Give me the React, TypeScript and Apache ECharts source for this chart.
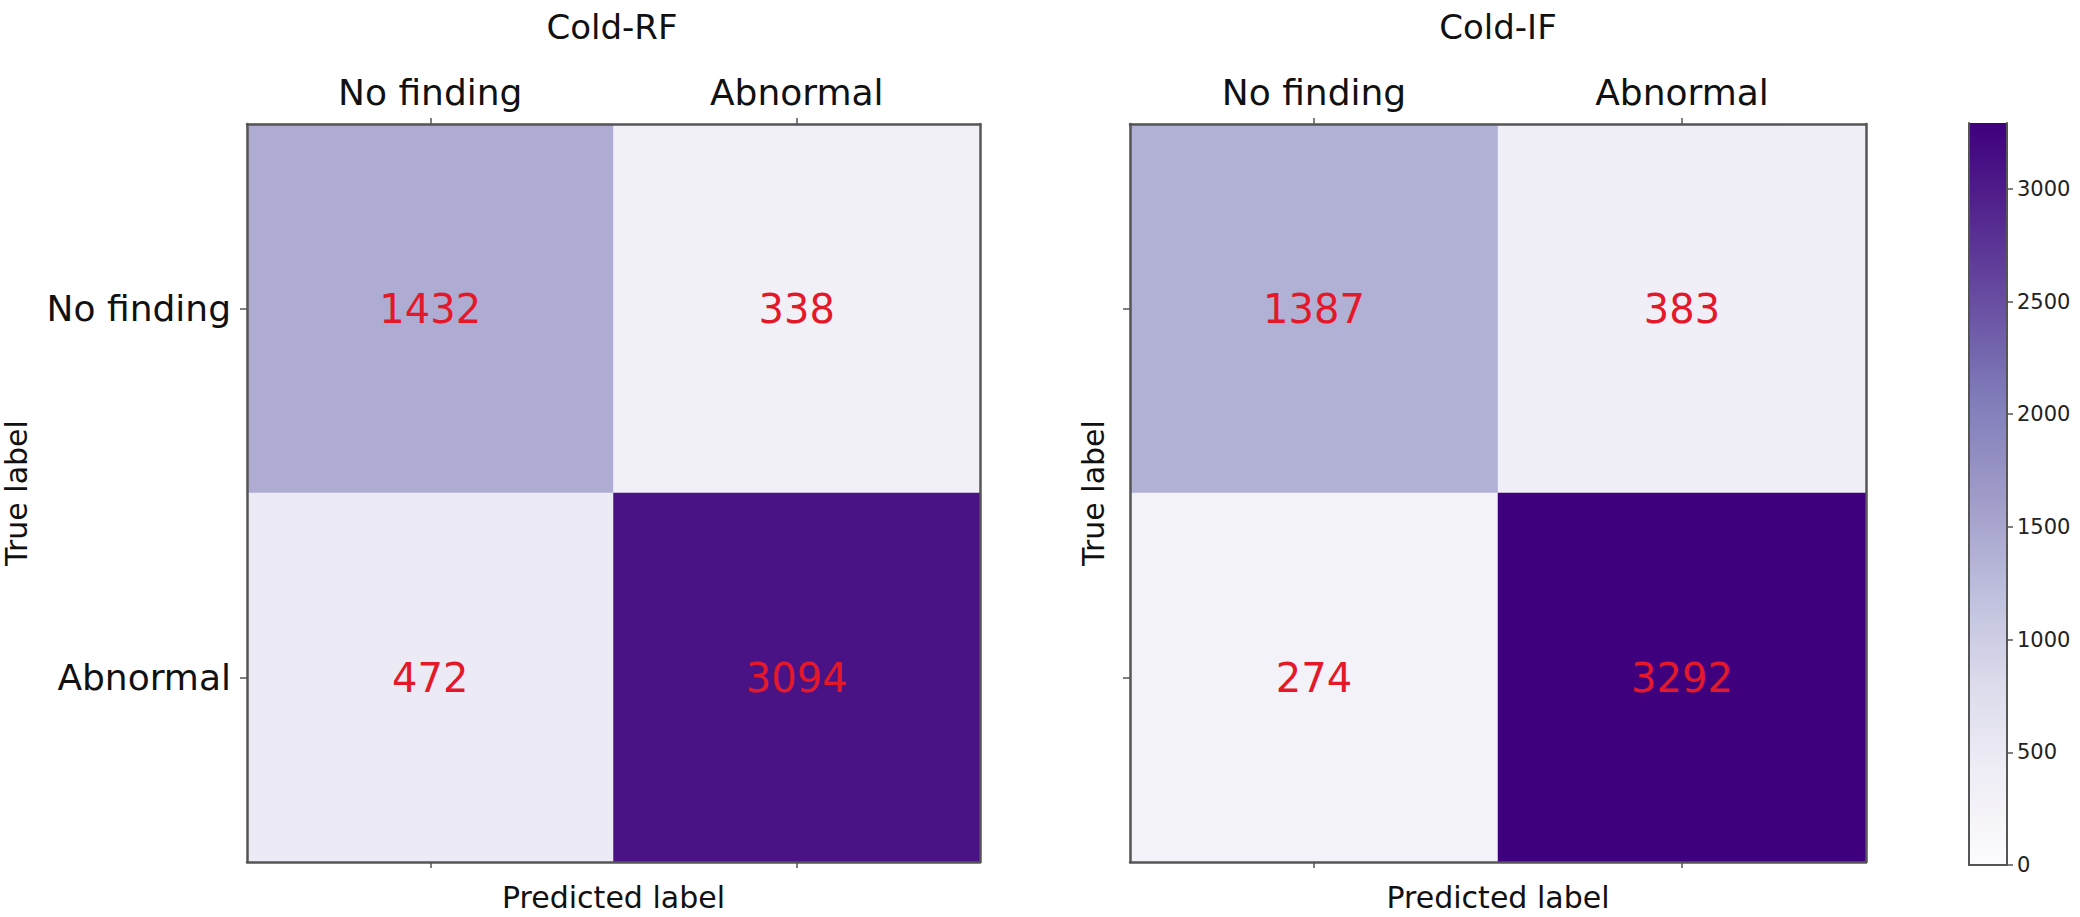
import React, { useEffect, useRef } from "react";
import * as echarts from "echarts";

const classes = ["No finding", "Abnormal"];
const titles = ["Cold-RF", "Cold-IF"];
// rows = true label, cols = predicted label
const rfMatrix = [
  [1432, 338],
  [472, 3094],
];
const ifMatrix = [
  [1387, 383],
  [274, 3292],
];
const colorMin = 0;
const colorMax = 3292;
const colorbarTicks = [0, 500, 1000, 1500, 2000, 2500, 3000];
const purples = ["#fcfbfd", "#efedf5", "#dadaeb", "#bcbddc", "#9e9ac8", "#807dba", "#6a51a3", "#54278f", "#3f007d"];

const FONT = "DejaVu Sans";
const AXIS_COLOR = "#555555";
const TEXT_COLOR = "#111111";

function toCells(m: number[][]) {
  const out: [number, number, number][] = [];
  m.forEach((row, r) => row.forEach((v, c) => out.push([c, r, v])));
  return out;
}

export default function App() {
  const ref = useRef<HTMLDivElement>(null);
  useEffect(() => {
    if (!ref.current) return;
    const chart = echarts.init(ref.current, null, { renderer: "svg" });
    const gridDefs = [
      { left: 244, top: 124, width: 736, height: 738 },
      { left: 1130, top: 124, width: 736, height: 738 },
      { left: 1969, top: 123, width: 38, height: 742 },
    ];
    const lineStyle = { color: AXIS_COLOR, width: 2.5 };
    const xAxes: any[] = [];
    const yAxes: any[] = [];
    [0, 1].forEach((g) => {
      xAxes.push({
        type: "category", gridIndex: g, position: "top", data: classes, z: 5,
        axisLine: { show: true, lineStyle },
        axisTick: { show: true, alignWithLabel: true, length: 6, lineStyle: { color: AXIS_COLOR, width: 1.5 } },
        axisLabel: { show: true, interval: 0, margin: 14, fontSize: 36, fontFamily: FONT, color: TEXT_COLOR },
        splitLine: { show: false },
      });
      xAxes.push({
        type: "category", gridIndex: g, position: "bottom", data: classes, z: 5,
        axisLine: { show: true, lineStyle },
        axisTick: { show: true, alignWithLabel: true, length: 6, lineStyle: { color: AXIS_COLOR, width: 1.5 } },
        axisLabel: { show: false },
        name: "Predicted label", nameLocation: "middle", nameGap: 20,
        nameTextStyle: { fontSize: 30, fontFamily: FONT, color: TEXT_COLOR, verticalAlign: "top" },
      });
      yAxes.push({
        type: "category", gridIndex: g, position: "left", data: classes, inverse: true, z: 5,
        axisLine: { show: true, lineStyle },
        axisTick: { show: true, alignWithLabel: true, length: 7, lineStyle: { color: AXIS_COLOR, width: 1.5 } },
        axisLabel: { show: g === 0, interval: 0, margin: 16, fontSize: 36, fontFamily: FONT, color: TEXT_COLOR },
        name: "True label", nameLocation: "middle", nameGap: g === 0 ? 216 : 22, nameRotate: 90,
        nameTextStyle: { fontSize: 30, fontFamily: FONT, color: TEXT_COLOR },
      });
      yAxes.push({
        type: "category", gridIndex: g, position: "right", data: classes, inverse: true, z: 5,
        axisLine: { show: true, lineStyle },
        axisTick: { show: false }, axisLabel: { show: false },
      });
    });
    // colorbar axes
    xAxes.push({
      type: "category", gridIndex: 2, position: "bottom", data: ["cb"], z: 5,
      axisLine: { show: true, lineStyle: { color: AXIS_COLOR, width: 2 } },
      axisTick: { show: false }, axisLabel: { show: false },
    });
    xAxes.push({
      type: "category", gridIndex: 2, position: "top", data: ["cb"], z: 5,
      axisLine: { show: true, lineStyle: { color: AXIS_COLOR, width: 2 } },
      axisTick: { show: false }, axisLabel: { show: false },
    });
    yAxes.push({
      type: "value", gridIndex: 2, position: "right", min: colorMin, max: colorMax, z: 5,
      axisLine: { show: true, lineStyle: { color: AXIS_COLOR, width: 2 } },
      axisTick: { show: true, length: 6, customValues: colorbarTicks, lineStyle: { color: AXIS_COLOR, width: 1.5 } },
      axisLabel: {
        show: true, customValues: colorbarTicks, margin: 10, fontSize: 21, fontFamily: FONT, color: "#222",
        formatter: (v: number) => String(v),
      },
      splitLine: { show: false },
    });
    yAxes.push({
      type: "value", gridIndex: 2, position: "left", min: colorMin, max: colorMax, z: 5,
      axisLine: { show: true, lineStyle: { color: AXIS_COLOR, width: 2 } },
      axisTick: { show: false }, axisLabel: { show: false }, splitLine: { show: false },
    });

    const cellLabel = {
      show: true, fontSize: 40, fontFamily: FONT, color: "#e3192a",
      formatter: (p: any) => String(p.value[2]),
    };

    chart.setOption({
      animation: false,
      backgroundColor: "#ffffff",
      title: titles.map((t, i) => ({
        text: t,
        left: gridDefs[i].left + gridDefs[i].width / 2,
        top: 10,
        padding: 0,
        textAlign: "center",
        textStyle: { fontSize: 34, fontWeight: "normal", fontFamily: FONT, color: TEXT_COLOR },
      })),
      grid: gridDefs,
      xAxis: xAxes,
      yAxis: yAxes,
      visualMap: {
        type: "continuous", show: false, min: colorMin, max: colorMax,
        seriesIndex: [0, 1], dimension: 2,
        inRange: { color: purples },
      },
      series: [
        { type: "heatmap", xAxisIndex: 0, yAxisIndex: 0, data: toCells(rfMatrix), label: cellLabel, itemStyle: { borderWidth: 0 } },
        { type: "heatmap", xAxisIndex: 2, yAxisIndex: 2, data: toCells(ifMatrix), label: cellLabel, itemStyle: { borderWidth: 0 } },
        {
          type: "bar", xAxisIndex: 4, yAxisIndex: 4, data: [colorMax], barWidth: "100%",
          itemStyle: {
            color: new echarts.graphic.LinearGradient(0, 1, 0, 0,
              purples.map((c, i) => ({ offset: i / (purples.length - 1), color: c }))),
          },
        },
      ],
    });
    return () => chart.dispose();
  }, []);
  return <div ref={ref} style={{ position: "fixed", left: 0, top: 0, width: 2080, height: 917 }} />;
}
